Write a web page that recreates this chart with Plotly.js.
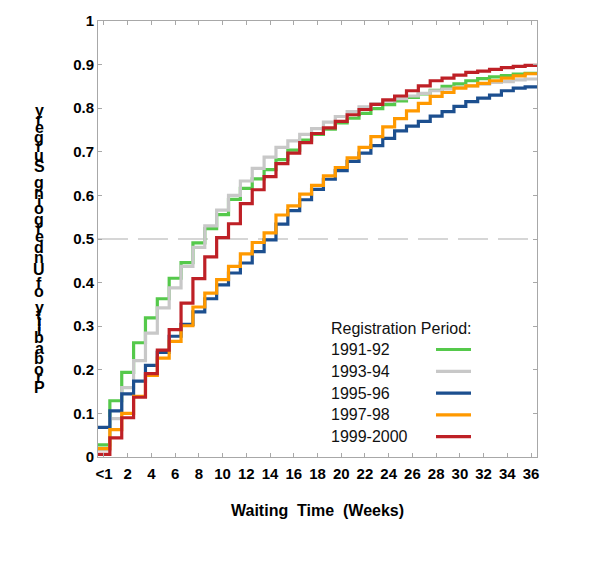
<!DOCTYPE html>
<html>
<head>
<meta charset="utf-8">
<script src="https://cdn.plot.ly/plotly-3.0.1.min.js"></script>
<style>
  html, body { margin: 0; padding: 0; background: #ffffff; }
  #chart { width: 600px; height: 567px; }
</style>
</head>
<body>
<div id="chart"></div>
<script>
// ---- data ----
const weeks = [0,1,2,3,4,5,6,7,8,9,10,11,12,13,14,15,16,17,18,19,20,21,22,23,24,25,26,27,28,29,30,31,32,33,34,35,36];
const tickVals = [0,2,4,6,8,10,12,14,16,18,20,22,24,26,28,30,32,34,36];
const tickText = ["<1","2","4","6","8","10","12","14","16","18","20","22","24","26","28","30","32","34","36"];
const seriesNames = ["1991-92","1993-94","1995-96","1997-98","1999-2000"];
const seriesColors = ["#55c94b","#c8c8c8","#1c4f8f","#ff9900","#be2026"];

const p1991 = [0.028,0.129,0.194,0.262,0.319,0.363,0.410,0.446,0.491,0.524,0.556,0.591,0.616,0.638,0.659,0.682,0.704,0.727,0.740,0.752,0.766,0.777,0.788,0.799,0.808,0.817,0.825,0.833,0.841,0.850,0.856,0.863,0.868,0.872,0.875,0.878,0.880];
const p1993 = [0.016,0.088,0.159,0.221,0.284,0.342,0.388,0.437,0.481,0.530,0.566,0.600,0.633,0.662,0.688,0.710,0.725,0.740,0.753,0.768,0.781,0.792,0.803,0.810,0.816,0.822,0.828,0.834,0.840,0.844,0.848,0.851,0.855,0.859,0.861,0.865,0.867];
const p1995 = [0.068,0.106,0.145,0.174,0.210,0.240,0.277,0.304,0.333,0.363,0.395,0.422,0.445,0.471,0.498,0.534,0.565,0.590,0.614,0.637,0.657,0.678,0.697,0.714,0.731,0.748,0.759,0.770,0.782,0.792,0.804,0.815,0.823,0.830,0.840,0.846,0.849];
const p1997 = [0.019,0.063,0.100,0.139,0.187,0.227,0.265,0.301,0.344,0.376,0.407,0.437,0.466,0.492,0.514,0.555,0.576,0.603,0.623,0.645,0.664,0.686,0.710,0.735,0.757,0.776,0.794,0.811,0.827,0.836,0.846,0.851,0.857,0.863,0.869,0.874,0.879];
const p1999 = [0.006,0.044,0.090,0.137,0.191,0.245,0.292,0.353,0.409,0.459,0.503,0.535,0.581,0.613,0.643,0.673,0.697,0.721,0.742,0.755,0.770,0.785,0.797,0.809,0.819,0.828,0.840,0.851,0.863,0.869,0.876,0.882,0.885,0.889,0.893,0.896,0.898];

const yTitleText = "Probability of Undergoing Surgery";
const xTitleText = "Waiting\u00a0\u00a0Time\u00a0\u00a0(Weeks)";
const legendTitle = "Registration Period:";

// ---- build traces (step lines: each week's value spans week-0.5 .. week+0.5) ----
const allSeries = [p1991, p1993, p1995, p1997, p1999];
const traces = allSeries.map((vals, i) => {
  const xs = weeks.map(w => w - 0.5);
  xs.push(weeks[weeks.length - 1] + 0.5);
  const ys = vals.slice();
  ys.push(vals[vals.length - 1]);
  return {
    type: 'scatter', mode: 'lines', name: seriesNames[i],
    x: xs, y: ys,
    line: { shape: 'hv', color: seriesColors[i], width: 3.2 },
    showlegend: false, hoverinfo: 'skip'
  };
});

// ---- geometry helpers (pixel -> paper) ----
const M = { l: 98, r: 63, t: 21, b: 110 };
const W = 600, H = 567;
const PW = W - M.l - M.r, PH = H - M.t - M.b;
const px2x = px => (px - M.l) / PW;
const py2y = py => (H - M.b - py) / PH;

const annotations = [];
const shapes = [];

// dashed reference line at 0.5
shapes.push({ type: 'line', xref: 'paper', yref: 'y', x0: 0, x1: 1, y0: 0.5, y1: 0.5,
  line: { color: '#d6d6d6', width: 2, dash: '30px,10px' }, layer: 'below' });

// custom legend (labels left, line samples right)
annotations.push({ xref: 'paper', yref: 'paper', x: px2x(329), y: py2y(328), xanchor: 'left', yanchor: 'middle',
  text: legendTitle, showarrow: false, font: { family: 'Liberation Sans, Arial, sans-serif', size: 16, color: '#111' } });
seriesNames.forEach((nm, i) => {
  const py = 349.5 + i * 21.8;
  annotations.push({ xref: 'paper', yref: 'paper', x: px2x(329), y: py2y(py), xanchor: 'left', yanchor: 'middle',
    text: nm, showarrow: false, font: { family: 'Liberation Sans, Arial, sans-serif', size: 16, color: '#111' } });
  shapes.push({ type: 'line', xref: 'paper', yref: 'paper', x0: px2x(436), x1: px2x(471), y0: py2y(py), y1: py2y(py),
    line: { color: seriesColors[i], width: 3.2 } });
});

// x title
annotations.push({ xref: 'paper', yref: 'paper', x: 0.5, y: py2y(510), xanchor: 'center', yanchor: 'middle',
  text: '<b>' + xTitleText + '</b>', showarrow: false,
  font: { family: 'Liberation Sans, Arial, sans-serif', size: 16, color: '#000' } });

// y title: upright letters stacked bottom-to-top, advancing by glyph width
(function () {
  const c = document.createElement('canvas').getContext('2d');
  c.font = 'bold 16px "Liberation Sans", Arial, sans-serif';
  const chars = Array.from(yTitleText);
  const widths = chars.map(ch => c.measureText(ch).width);
  const total = widths.reduce((a, b) => a + b, 0);
  const bottom = 393, top = 106;
  const scale = (bottom - top) / total;
  let cum = 0;
  chars.forEach((ch, k) => {
    const center = bottom - (cum + widths[k] / 2) * scale;
    cum += widths[k];
    if (ch.trim() === '') return;
    annotations.push({ xref: 'paper', yref: 'paper', x: px2x(39), y: py2y(center), xanchor: 'center', yanchor: 'middle',
      text: '<b>' + ch + '</b>', showarrow: false,
      font: { family: 'Liberation Sans, Arial, sans-serif', size: 16, color: '#000' } });
  });
})();

const layout = {
  width: W, height: H,
  margin: M,
  paper_bgcolor: '#ffffff', plot_bgcolor: '#ffffff',
  showlegend: false,
  xaxis: {
    range: [-0.5, 36.5], tickmode: 'array', tickvals: tickVals, ticktext: tickText,
    showgrid: false, zeroline: false, showline: true, linecolor: '#a8a8a8', linewidth: 1,
    mirror: 'ticks', ticks: 'inside', ticklen: 4, tickcolor: '#a8a8a8', ticklabelstandoff: 3,
    tickfont: { family: 'Liberation Sans, Arial, sans-serif', size: 15, color: '#000', weight: 'bold' }
  },
  yaxis: {
    range: [0, 1], tickmode: 'array', tickvals: [0,0.1,0.2,0.3,0.4,0.5,0.6,0.7,0.8,0.9,1],
    ticktext: ["0","0.1","0.2","0.3","0.4","0.5","0.6","0.7","0.8","0.9","1"],
    showgrid: false, zeroline: false, showline: true, linecolor: '#a8a8a8', linewidth: 1,
    mirror: 'ticks', ticks: 'inside', ticklen: 4, tickcolor: '#a8a8a8',
    tickfont: { family: 'Liberation Sans, Arial, sans-serif', size: 15, color: '#000', weight: 'bold' }
  },
  annotations: annotations,
  shapes: shapes
};

Plotly.newPlot('chart', traces, layout, { displayModeBar: false, staticPlot: true });
</script>
</body>
</html>
